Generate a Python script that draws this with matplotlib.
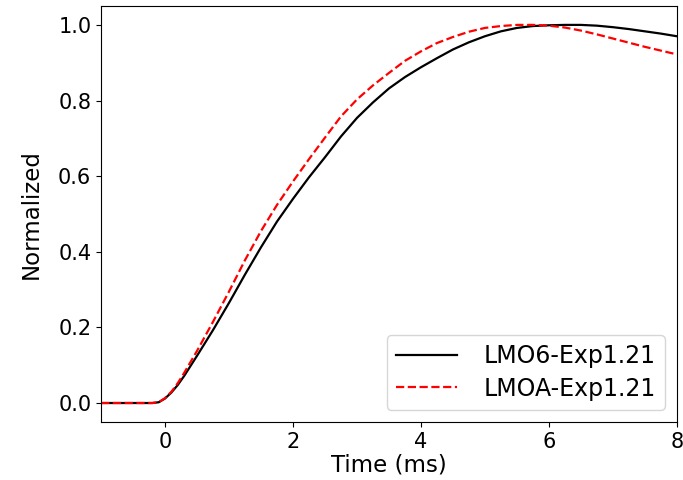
import matplotlib
matplotlib.use("Agg")
import matplotlib.pyplot as plt

time_ms = [-1.0, -0.5, -0.2, -0.1, 0.0, 0.1, 0.2, 0.3, 0.5, 0.75, 1.0, 1.25, 1.5, 1.75,
           2.0, 2.25, 2.5, 2.75, 3.0, 3.25, 3.5, 3.75, 4.0, 4.25, 4.5, 4.75, 5.0, 5.25,
           5.5, 5.75, 6.0, 6.25, 6.5, 6.75, 7.0, 7.25, 7.5, 7.75, 8.0]

lmo6 = [0.0, 0.0, 0.0, 0.002, 0.012, 0.028, 0.048, 0.072, 0.125, 0.193, 0.265, 0.340,
        0.412, 0.480, 0.540, 0.597, 0.650, 0.705, 0.754, 0.795, 0.832, 0.862, 0.888,
        0.912, 0.935, 0.954, 0.970, 0.983, 0.992, 0.997, 0.999, 1.0, 1.0, 0.998, 0.994,
        0.989, 0.983, 0.977, 0.970]

lmoa = [0.0, 0.0, 0.0, 0.002, 0.013, 0.030, 0.053, 0.080, 0.138, 0.215, 0.295, 0.378,
        0.455, 0.524, 0.586, 0.645, 0.702, 0.758, 0.803, 0.840, 0.873, 0.905, 0.930,
        0.952, 0.968, 0.982, 0.992, 0.997, 1.0, 1.0, 0.998, 0.993, 0.985, 0.975, 0.964,
        0.953, 0.942, 0.932, 0.922]

labels = ["LMO6-Exp1.21", "LMOA-Exp1.21"]

fig = plt.figure(figsize=(6.83, 4.8), dpi=100)
ax = fig.add_axes([0.148, 0.121, 0.843, 0.8665])
ax.plot(time_ms, lmo6, color="black", lw=1.6, label=labels[0])
ax.plot(time_ms, lmoa, color="red", lw=1.6, ls="--", label=labels[1])
ax.set_xlim(-1, 8)
ax.set_ylim(-0.05, 1.05)
ax.set_xticks([0, 2, 4, 6, 8])
ax.set_yticks([0.0, 0.2, 0.4, 0.6, 0.8, 1.0])
ax.tick_params(labelsize=15)
ax.set_xlabel("Time (ms)", fontsize=16.5, labelpad=1)
ax.set_ylabel("Normalized", fontsize=16.5, labelpad=11,
              family=["Liberation Sans Narrow", "DejaVu Sans"])
ax.legend(loc="lower right", fontsize=17, handlelength=2.6, handletextpad=1.1,
          borderpad=0.4, labelspacing=0.35, borderaxespad=0.5)
fig.savefig("out.png", dpi=100)
